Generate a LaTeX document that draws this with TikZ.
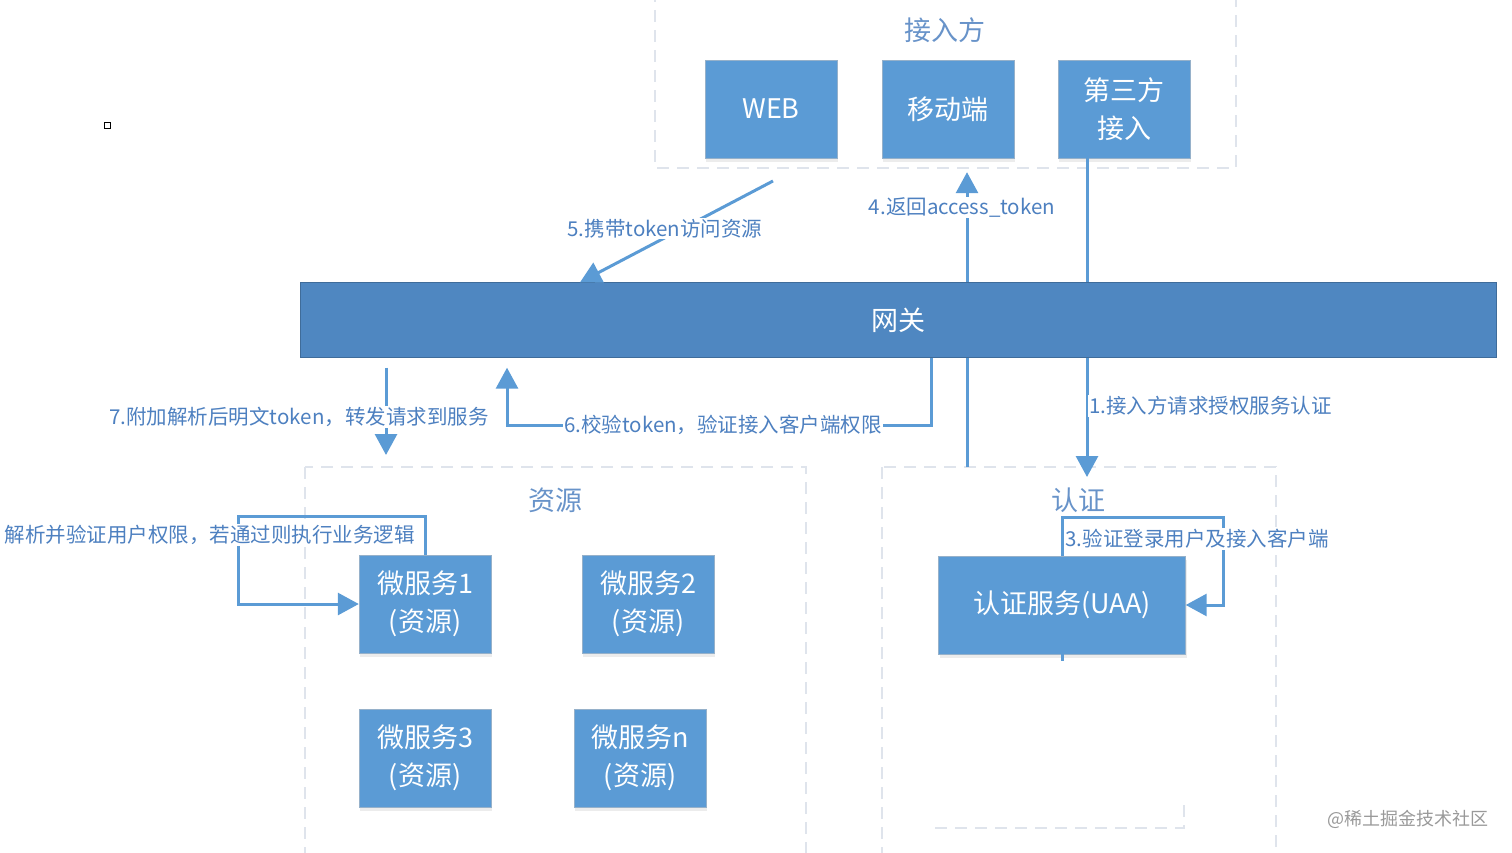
\documentclass[tikz,border=0pt]{standalone}
\usepackage{fontspec}
\setmainfont{Noto Sans CJK SC}
\usetikzlibrary{arrows.meta,shadows}

\definecolor{boxblue}{HTML}{5B9BD5}
\definecolor{gwblue}{HTML}{4F87C1}
\definecolor{txtblue}{HTML}{4D80C0}
\definecolor{dashgray}{HTML}{DFE4EC}

\begin{document}
\begin{tikzpicture}[x=1pt, y=-1pt,
  blk/.style={draw=boxblue!60!gray!70, fill=boxblue, text=white, align=center,
    minimum width=132pt, minimum height=98pt, inner sep=0pt,
    font=\fontsize{27}{38}\selectfont,
    drop shadow={opacity=0.15, shadow xshift=1pt, shadow yshift=-4pt}},
  lbl/.style={text=txtblue, fill=white, inner sep=1pt, font=\fontsize{20.5}{24}\selectfont},
  ttl/.style={text=txtblue!85, font=\fontsize{27}{30}\selectfont},
  grp/.style={draw=dashgray, line width=1.5pt, dash pattern=on 12pt off 8pt},
  link/.style={draw=boxblue, line width=3pt, -{Triangle[length=21pt,width=22pt]}}]

\useasboundingbox (0,0) rectangle (1512,853);

% groups
\draw[grp] (655,-10) rectangle (1236,168);
\draw[grp] (305,467) rectangle (806,870);
\draw[grp] (882,467) rectangle (1276,870);
\draw[grp] (935,828) -- (1184,828) -- (1184,798);

\node[ttl] (t1) at (945,30) {接入方};
\node[ttl] (t2) at (555,500) {资源};
\node[ttl] (t3) at (1078,500) {认证};

% clients
\node[blk] (web) at (771,109) {WEB};
\node[blk] (mob) at (948,109) {移动端};
\node[blk] (tp) at (1124,109) {第三方\\接入};

% auth
\node[blk, minimum width=247pt] (uaa) at (1062,605) {认证服务(UAA)};
\draw[boxblue, line width=3pt] (uaa.south) -- ++(0,7);

% resources
\node[blk] (ms1) at (425,604) {微服务1\\(资源)};
\node[blk] (ms2) at (648,604) {微服务2\\(资源)};
\node[blk] (ms3) at (425,758) {微服务3\\(资源)};
\node[blk] (msn) at (640,758) {微服务n\\(资源)};

% 1 and 4 run behind the gateway
\draw[link] (tp.south -| 1087,0) -- (1087,477);
\node[lbl, anchor=west] (l1) at (1088,406) {1.接入方请求授权服务认证};
\draw[link, shorten >=14pt] (967,467) -- (mob.south -| 967,0)
   node[lbl, pos=0.84, xshift=-5pt] (l4) {4.返回access\_token};

\node[draw=gwblue!80!black, fill=gwblue, text=white, minimum width=1196pt,
  minimum height=75pt, font=\fontsize{27}{30}\selectfont] (gw) at (898,320) {网关};

\coordinate (c5) at (773,181);
\draw[link] (c5) -- (gw.north -| 580,0)
   node[lbl, pos=0.56, yshift=9pt] (l5) {5.携带token访问资源};

\draw[link, shorten >=10pt] (gw.south -| 931,0) |- (723,425)
   node[lbl] (l6) {6.校验token，验证接入客户端权限} -| (gw.south -| 507,0);

\draw[link, shorten <=10pt] (gw.south -| 386,0) -- (386,455)
   node[lbl, pos=0.61, xshift=-87pt] (l7) {7.附加解析后明文token，转发请求到服务};

\draw[link] (uaa.north) |- (1223,517) -- (1223,539)
   node[lbl, anchor=west, xshift=-160pt] (l3) {3.验证登录用户及接入客户端} |- (uaa.east);

\draw[link] (ms1.north) |- (238,516) -- (238,535)
   node[lbl, xshift=-28pt] (l8) {解析并验证用户权限，若通过则执行业务逻辑} |- (ms1.west);

\draw[line width=1pt] (104,123) rectangle (110,129);
\node[text=gray!80, font=\fontsize{18}{20}\selectfont] (wm) at (1408,819) {@稀土掘金技术社区};
\end{tikzpicture}
\end{document}
